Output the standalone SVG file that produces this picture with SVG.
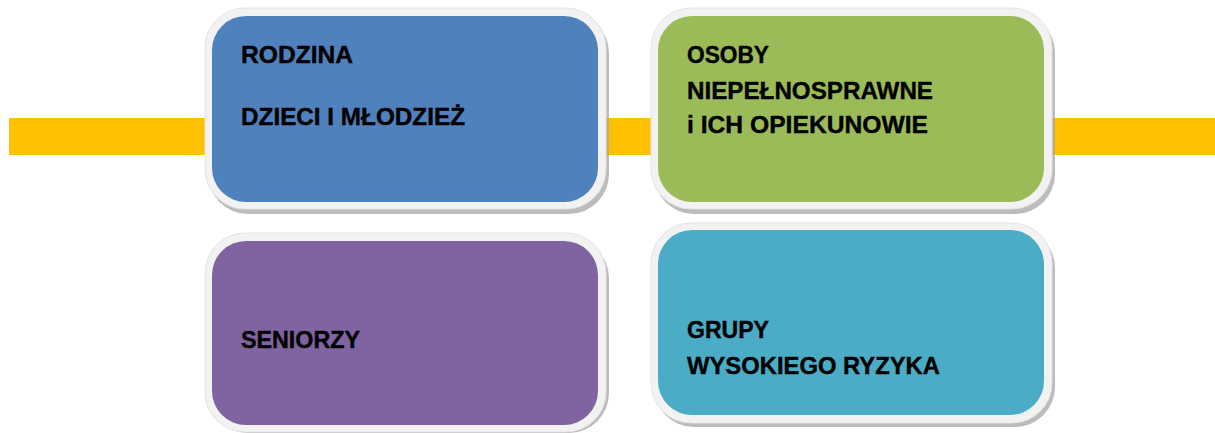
<svg xmlns="http://www.w3.org/2000/svg" width="1215" height="433" viewBox="0 0 1215 433">
<style>
.shadow{fill:#a6a6a6;opacity:0.75}
.frame{fill:#f2f2f2;stroke:#e4e4e4;stroke-width:1}
.lbl{font-family:"Liberation Sans",Arial,sans-serif;font-weight:bold;font-size:24.5px;fill:#000;stroke:#000;stroke-width:0.4}
</style>
<rect width="1215" height="433" fill="#ffffff"/>
<g id="connectors">
<rect x="9" y="118" width="1206" height="37" fill="#FFC000"/>
</g>
<g id="node-rodzina">
<rect class="shadow" x="208" y="13" width="401" height="201" rx="40"/>
<rect class="frame" x="205" y="8" width="401" height="201" rx="40"/>
<rect x="212" y="16" width="386" height="186" rx="34" fill="#4F81BD"/>
<text class="lbl" x="241" y="63" textLength="112" lengthAdjust="spacingAndGlyphs">RODZINA</text>
<text class="lbl" x="241" y="125" textLength="224" lengthAdjust="spacingAndGlyphs">DZIECI I MŁODZIEŻ</text>
</g>
<g id="node-osoby">
<rect class="shadow" x="654" y="13" width="401" height="201" rx="40"/>
<rect class="frame" x="651" y="8" width="401" height="201" rx="40"/>
<rect x="658" y="16" width="386" height="186" rx="34" fill="#9BBB59"/>
<text class="lbl" x="687" y="63" textLength="82" lengthAdjust="spacingAndGlyphs">OSOBY</text>
<text class="lbl" x="687" y="99" textLength="246" lengthAdjust="spacingAndGlyphs">NIEPEŁNOSPRAWNE</text>
<text class="lbl" x="687" y="133" textLength="241" lengthAdjust="spacingAndGlyphs">i ICH OPIEKUNOWIE</text>
</g>
<g id="node-seniorzy">
<rect class="shadow" x="208" y="238" width="401" height="195" rx="40"/>
<rect class="frame" x="205" y="233" width="401" height="199" rx="40"/>
<rect x="212" y="241" width="386" height="184" rx="34" fill="#8064A2"/>
<text class="lbl" x="241" y="348" textLength="119" lengthAdjust="spacingAndGlyphs">SENIORZY</text>
</g>
<g id="node-grupy">
<rect class="shadow" x="654" y="228" width="401" height="199" rx="40"/>
<rect class="frame" x="651" y="223" width="401" height="200" rx="40"/>
<rect x="658" y="230" width="386" height="185" rx="34" fill="#4BACC6"/>
<text class="lbl" x="687" y="338" textLength="82" lengthAdjust="spacingAndGlyphs">GRUPY</text>
<text class="lbl" x="687" y="374" textLength="253" lengthAdjust="spacingAndGlyphs">WYSOKIEGO RYZYKA</text>
</g>
</svg>
